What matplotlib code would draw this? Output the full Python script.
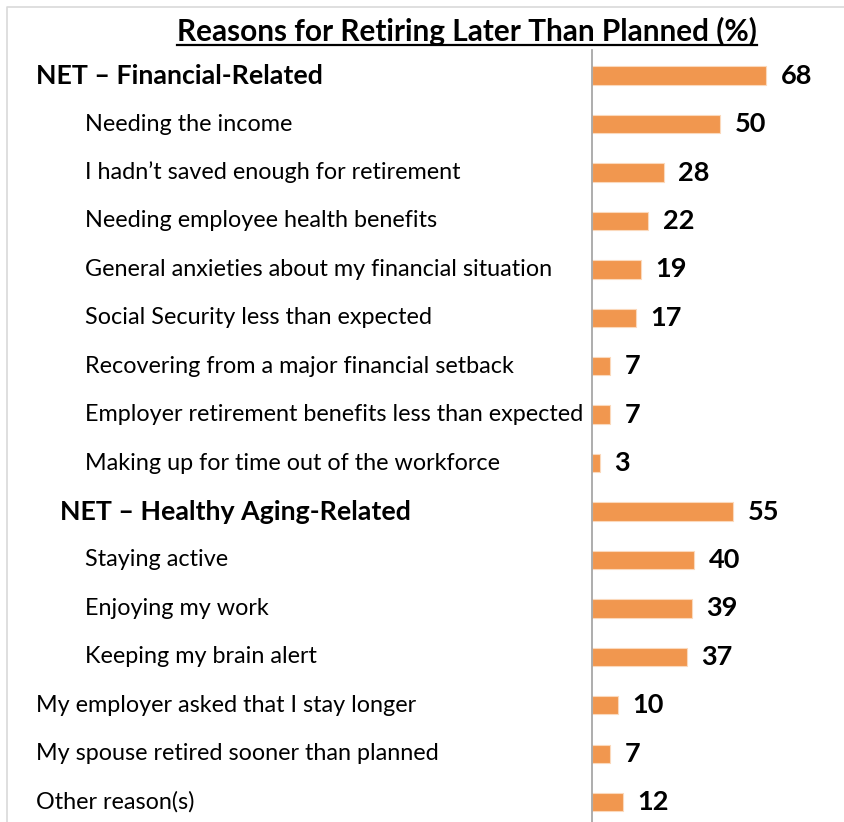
import matplotlib.pyplot as plt
import matplotlib.transforms as mtransforms
from matplotlib.lines import Line2D

plt.rcParams['font.family'] = ['Lato', 'DejaVu Sans']

title = 'Reasons for Retiring Later Than Planned (%)'
labels = [
    'NET \u2013 Financial-Related',
    'Needing the income',
    'I hadn\u2019t saved enough for retirement',
    'Needing employee health benefits',
    'General anxieties about my financial situation',
    'Social Security less than expected',
    'Recovering from a major financial setback',
    'Employer retirement benefits less than expected',
    'Making up for time out of the workforce',
    'NET \u2013 Healthy Aging-Related',
    'Staying active',
    'Enjoying my work',
    'Keeping my brain alert',
    'My employer asked that I stay longer',
    'My spouse retired sooner than planned',
    'Other reason(s)',
]
values = [68, 50, 28, 22, 19, 17, 7, 7, 3, 55, 40, 39, 37, 10, 7, 12]
# row type: net = bold group header, sub = item inside a group, top = standalone item
kinds = ['net', 'sub', 'sub', 'sub', 'sub', 'sub', 'sub', 'sub', 'sub',
         'net2', 'sub', 'sub', 'sub', 'top', 'top', 'top']

W, H = 844, 822
fig = plt.figure(figsize=(W / 100, H / 100), dpi=100)
ax = fig.add_axes([592 / W, 0, 1 - 592 / W, 1 - 50 / H])

pos = list(range(len(values)))
ax.barh(pos, values, height=0.38, color='#F1974F', edgecolor='#FBD9BC', linewidth=0.8)
ax.set_xlim(0, 98.4)
ax.set_ylim(15.41, -0.53)
for s in ['top', 'right', 'bottom']:
    ax.spines[s].set_visible(False)
ax.spines['left'].set_color('#A0A0A0')
ax.spines['left'].set_linewidth(1.2)
ax.set_xticks([])
ax.set_yticks([])

for p, v in zip(pos, values):
    ax.annotate(str(v), (v, p), xytext=(10.5, 0), textcoords='offset points',
                va='center', ha='left', fontsize=19.5, fontweight='bold', color='black')

trans = mtransforms.blended_transform_factory(fig.transFigure, ax.transData)
xpos = {'net': 36, 'sub': 85, 'net2': 60, 'top': 36}
for p, lab, k in zip(pos, labels, kinds):
    bold = k.startswith('net')
    ax.text(xpos[k] / W, p, lab, transform=trans, va='center', ha='left',
            fontsize=19.3 if bold else 16.8, fontweight='bold' if bold else 'normal',
            color='black', clip_on=False)

t = fig.text(467 / W, 1 - 31 / H, title, ha='center', va='center',
             fontsize=21.4, fontweight='bold')
fig.canvas.draw()
bb = t.get_window_extent().transformed(fig.transFigure.inverted())
fig.add_artist(Line2D([bb.x0, bb.x1], [bb.y0 + 1 / H, bb.y0 + 1 / H],
                      transform=fig.transFigure, color='black', lw=1.6))

# light frame at top and left
fig.add_artist(Line2D([7 / W, 7 / W, 1], [0, 1 - 7 / H, 1 - 7 / H],
                      transform=fig.transFigure, color='#D9D9D9', lw=1.2))

fig.savefig('out.png', dpi=100)
